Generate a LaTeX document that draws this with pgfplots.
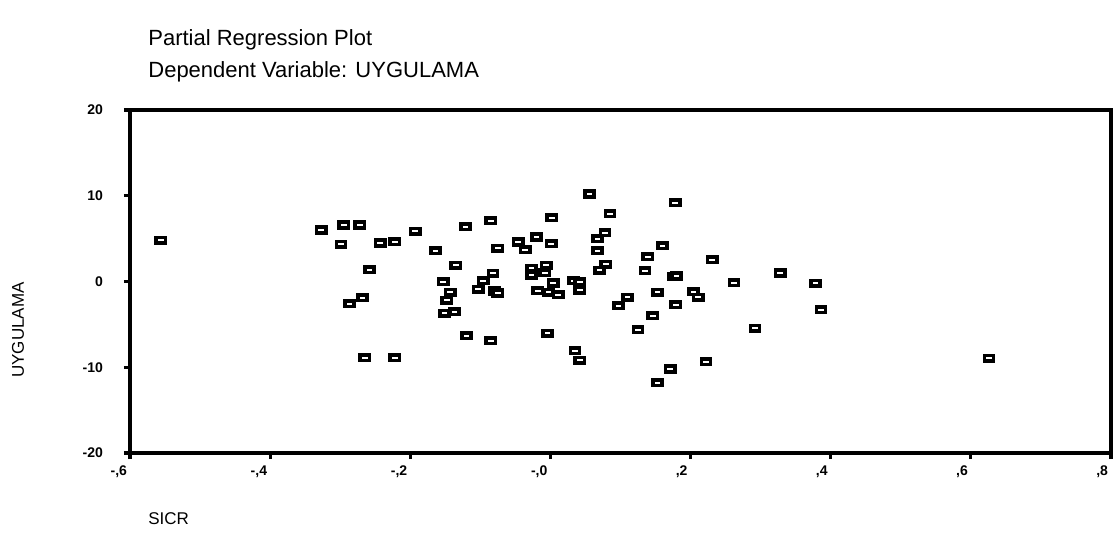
\documentclass[border=0pt]{standalone}
\usepackage{fontspec}
\setmainfont{Liberation Sans}
\usepackage{pgfplots}
\pgfplotsset{compat=1.18}
\pgfdeclareplotmark{rbox}{%
  \pgfpathrectangle{\pgfpoint{-2.3pt}{-1.4pt}}{\pgfpoint{4.6pt}{2.8pt}}%
  \pgfusepathqfillstroke}
\begin{document}
\begin{tikzpicture}
\useasboundingbox (0,0) rectangle (557.5pt,269pt);
\begin{axis}[
  at={(65pt,42.5pt)}, anchor=south west,
  width=490.5pt, height=171.5pt, scale only axis,
  xmin=-0.6, xmax=0.8, ymin=-20, ymax=20,
  xtick={-0.6,-0.4,-0.2,0,0.2,0.4,0.6,0.8},
  xticklabels={{-,6},{-,4},{-,2},{-,0},{,2},{,4},{,6},{,8}},
  ytick={-20,-10,0,10,20},
  yticklabels={-20,-10,0,10,20},
  xtick pos=lower, ytick pos=left,
  axis line style={line width=1.6pt},
  tick align=outside, major tick length=3pt,
  tick style={line width=1.6pt, black},
  ticklabel style={font=\fontsize{7}{8}\selectfont\bfseries},
  xticklabel style={anchor=north east, xshift=2pt},
  yticklabel style={xshift=-7pt},
]
\addplot[only marks, mark=rbox, mark options={draw=black, fill=white, line width=1.8pt}] coordinates {
(-0.556,4.8) (-0.327,6.0) (-0.295,6.6) (-0.272,6.6) (-0.299,4.35) (-0.243,4.5)
(-0.222,4.66) (-0.258,1.36) (-0.287,-2.6) (-0.268,-1.9) (-0.265,-8.9) (-0.222,-8.9)
(-0.193,5.86) (-0.164,3.58) (-0.121,6.37) (-0.085,7.1) (-0.135,1.9) (-0.075,3.85)
(-0.046,4.6) (-0.036,3.73) (-0.020,5.2) (0.001,4.43) (0.002,7.42) (-0.153,-0.04)
(-0.082,0.97) (-0.096,0.08) (-0.027,1.55) (-0.006,1.9) (-0.027,0.73) (-0.008,1.05)
(0.004,-0.18) (0.056,10.2) (0.178,9.17) (0.085,7.9) (0.078,5.7) (0.067,5.0)
(0.067,3.6) (0.079,2.0) (0.070,1.3) (0.16,4.16) (0.139,2.9) (0.135,1.25)
(0.175,0.55) (0.18,0.65) (0.033,0.08) (0.042,-0.05) (0.231,2.56) (0.328,1.0)
(0.262,-0.12) (0.378,-0.23) (0.042,-1.0) (-0.003,-1.28) (0.011,-1.55) (0.11,-1.86)
(0.097,-2.83) (0.153,-1.28) (0.179,-2.7) (0.204,-1.17) (0.211,-1.86) (0.386,-3.3)
(0.146,-4.0) (0.125,-5.6) (0.292,-5.44) (-0.004,-6.06) (0.035,-8.08) (0.042,-9.17)
(0.222,-9.36) (0.171,-10.2) (0.153,-11.8) (-0.143,-1.28) (-0.148,-2.17) (-0.151,-3.73)
(-0.137,-3.53) (-0.103,-0.9) (-0.08,-1.1) (-0.075,-1.35) (-0.12,-6.33) (-0.085,-6.9)
(-0.018,-1.09) (0.626,-8.94)
};
\end{axis}
\node[anchor=west, inner sep=0pt, font=\fontsize{11}{13}\selectfont] at (74pt,249pt) {Partial Regression Plot};
\node[anchor=west, inner sep=0pt, font=\fontsize{11}{13}\selectfont] at (74pt,233pt) {Dependent Variable: UYGULAMA};
\node[anchor=west, inner sep=0pt, font=\fontsize{8.5}{10}\selectfont] at (74pt,9.5pt) {SICR};
\node[rotate=90, inner sep=0pt, font=\fontsize{8.5}{10}\selectfont] at (9pt,104pt) {UYGULAMA};
\end{tikzpicture}
\end{document}
